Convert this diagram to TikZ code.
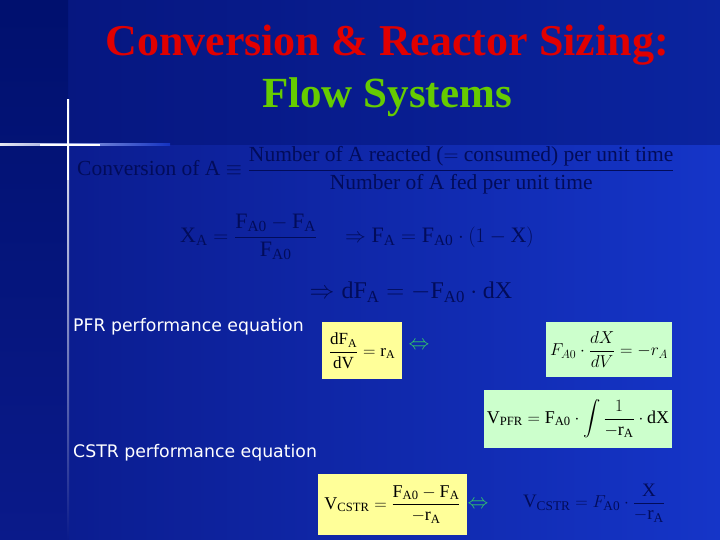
\documentclass[tikz,border=0pt]{standalone}
\usepackage{fontspec}
\usepackage{amsmath}
\setmainfont{Liberation Serif}
\newfontfamily\lbl{DejaVu Sans}
\usetikzlibrary{shadings}
\definecolor{bgA}{HTML}{0A1A8A}
\definecolor{bgB}{HTML}{1535C8}
\definecolor{strip}{HTML}{00106E}
\definecolor{ink}{HTML}{020C5A}
\definecolor{ttlred}{HTML}{E00000}
\definecolor{ttlgreen}{HTML}{66CC00}
\definecolor{ybox}{HTML}{FFFF99}
\definecolor{gbox}{HTML}{CCFFCC}
\definecolor{arr}{HTML}{33CC66}
\tikzset{
  dark/.style={text=ink,inner sep=0pt},
  lab/.style={text=white,anchor=west,inner sep=0pt,font=\lbl\fontsize{17.3}{20}\selectfont},
  eqbox/.style={inner sep=3pt,text=black},
  iff/.style={text=arr,inner sep=0pt,font=\fontsize{20}{24}\selectfont}
}
\begin{document}
\begin{tikzpicture}[x=1pt,y=-1pt]
\useasboundingbox (0,0) rectangle (720,540);
\shade[left color=bgA,right color=bgB] (0,0) rectangle (720,540);
\shade[top color=strip,bottom color=bgA] (0,0) rectangle (68,540);
\fill[strip,opacity=0.45] (68,0) rectangle (720,145);
\shade[left color=white,right color=bgB,opacity=0.9] (0,144) rectangle (170,146);
\shade[top color=white,bottom color=bgA] (67,100) rectangle (69,540);
\draw[white,line width=1.5pt] (68,108) -- (68,180);
\draw[white,line width=1.5pt] (40,145) -- (100,145);
\node (t1) at (387,45) {\fontsize{44}{48}\selectfont\bfseries\color{ttlred}Conversion \& Reactor Sizing:};
\node (t2) at (387,97) {\fontsize{43}{48}\selectfont\bfseries\color{ttlgreen}Flow Systems};
\node[dark,anchor=west] (conv) at (77,170) {\fontsize{21.5}{24}\selectfont Conversion of A $\equiv\dfrac{\text{Number of A reacted ($=$ consumed) per unit time}}{\text{Number of A fed per unit time}}$};
\node[dark] (xa) at (357,237) {\fontsize{22}{26}\selectfont $\mathrm{X_A}=\dfrac{\mathrm{F_{A0}}-\mathrm{F_A}}{\mathrm{F_{A0}}}\quad\Rightarrow \mathrm{F_A}=\mathrm{F_{A0}}\cdot(1-\mathrm{X})$};
\node[dark] (df) at (411,292) {\fontsize{24}{28}\selectfont $\Rightarrow \mathrm{dF_A}=-\mathrm{F_{A0}}\cdot\mathrm{dX}$};
\node[lab] (pfr) at (73,327) {PFR performance equation};
\node[lab] (cstr) at (73,453) {CSTR performance equation};
\node[eqbox,fill=ybox,minimum width=80pt,minimum height=57pt] (b1) at (362,350.5) {\fontsize{17}{20}\selectfont $\dfrac{\mathrm{dF_A}}{\mathrm{dV}}=\mathrm{r_A}$};
\node[iff] (i1) at (419,346) {$\Leftrightarrow$};
\node[eqbox,fill=gbox,minimum width=126pt,minimum height=55pt] (b2) at (609,349.5) {\fontsize{17}{20}\selectfont $F_{A0}\cdot\dfrac{dX}{dV}=-r_A$};
\node[eqbox,fill=gbox,minimum width=188pt,minimum height=58pt] (b3) at (578,419) {\fontsize{18}{22}\selectfont $\mathrm{V_{PFR}}=\mathrm{F_{A0}}\cdot\displaystyle\int\dfrac{1}{-\mathrm{r_A}}\cdot\mathrm{dX}$};
\node[eqbox,fill=ybox,minimum width=149pt,minimum height=61pt] (b4) at (392.5,504.5) {\fontsize{18}{22}\selectfont $\mathrm{V_{CSTR}}=\dfrac{\mathrm{F_{A0}}-\mathrm{F_A}}{-\mathrm{r_A}}$};
\node[iff] (i2) at (478,505) {$\Leftrightarrow$};
\node[dark] (b5) at (594,503) {\fontsize{19}{22}\selectfont $\mathrm{V_{CSTR}}=F_{\mathrm{A0}}\cdot\dfrac{\mathrm{X}}{-\mathrm{r_A}}$};
\end{tikzpicture}
\end{document}
